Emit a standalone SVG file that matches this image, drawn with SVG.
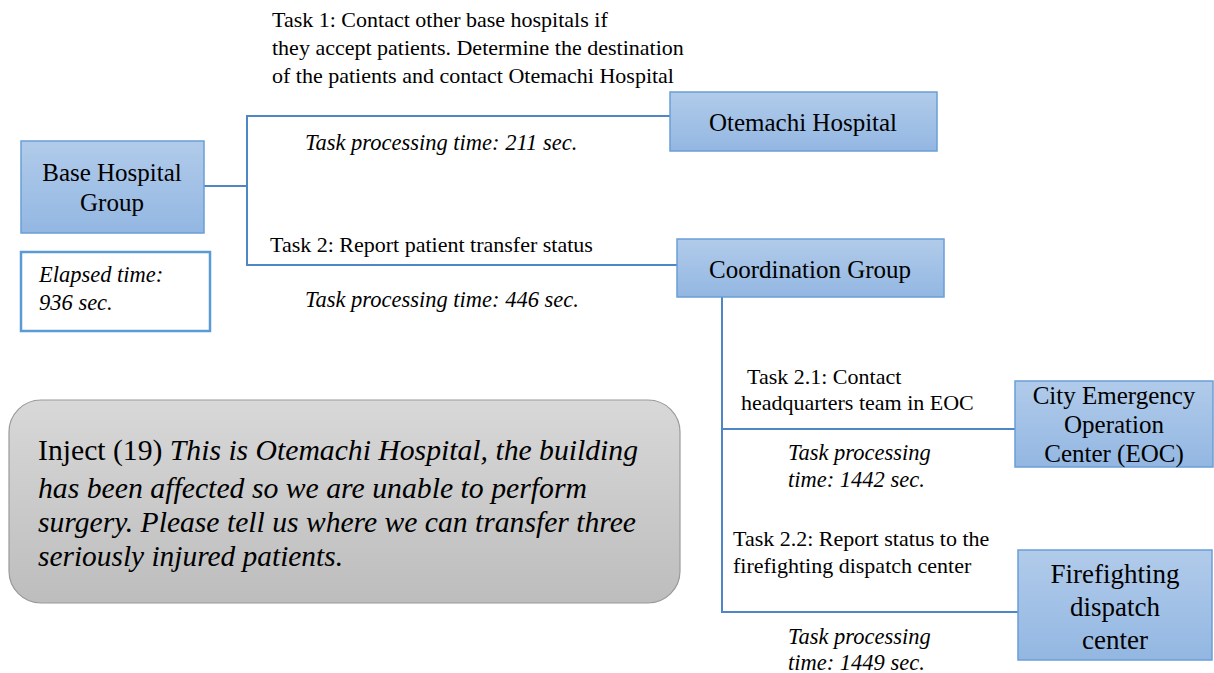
<svg xmlns="http://www.w3.org/2000/svg" width="1214" height="673" viewBox="0 0 1214 673">
  <defs>
    <linearGradient id="blueFill" x1="0" y1="0" x2="0" y2="1">
      <stop offset="0" stop-color="#b1cbea"/>
      <stop offset="1" stop-color="#93b7e2"/>
    </linearGradient>
    <linearGradient id="grayFill" x1="0" y1="0" x2="0" y2="1">
      <stop offset="0" stop-color="#d8d8d8"/>
      <stop offset="1" stop-color="#bdbdbd"/>
    </linearGradient>
    <style>
      .node { fill: url(#blueFill); stroke: #6a9fd6; stroke-width: 1.5; }
      .note { fill: #ffffff; stroke: #5b9bd5; stroke-width: 2.5; }
      .inject { fill: url(#grayFill); stroke: #9a9a9a; stroke-width: 1.2; }
      .wire { fill: none; stroke: #4f86c6; stroke-width: 2; }
      text { font-family: "Liberation Serif", "Times New Roman", serif; fill: #000; }
      .lbl { font-size: 25px; text-anchor: middle; }
      .task { font-size: 22px; }
      .time { font-size: 22.5px; font-style: italic; }
      .inj { font-size: 29px; }
      .it { font-style: italic; }
    </style>
  </defs>

  <!-- connectors -->
  <g id="connectors">
    <polyline class="wire" points="204,186 247,186"/>
    <polyline class="wire" points="670,116 247,116 247,265 677,265"/>
    <polyline class="wire" points="722,297 722,613"/>
    <polyline class="wire" points="722,429 1015,429"/>
    <polyline class="wire" points="722,612 1018,612"/>
  </g>

  <!-- edge labels -->
  <g id="labels">
    <text class="task" x="272" y="27">Task 1: Contact other base hospitals if</text>
    <text class="task" x="272" y="55">they accept patients. Determine the destination</text>
    <text class="task" x="272" y="83">of the patients and contact Otemachi Hospital</text>
    <text class="time" x="305" y="150">Task processing time: 211 sec.</text>
    <text class="task" x="270" y="252">Task 2: Report patient transfer status</text>
    <text class="time" x="305" y="307">Task processing time: 446 sec.</text>
    <text class="task" x="747" y="384">Task 2.1: Contact</text>
    <text class="task" x="741" y="410">headquarters team in EOC</text>
    <text class="time" x="788" y="460">Task processing</text>
    <text class="time" x="788" y="487">time: 1442 sec.</text>
    <text class="task" x="733" y="546">Task 2.2: Report status to the</text>
    <text class="task" x="733" y="573">firefighting dispatch center</text>
    <text class="time" x="788" y="644">Task processing</text>
    <text class="time" x="788" y="670">time: 1449 sec.</text>
  </g>

  <g id="base-hospital-group">
    <rect class="node" x="21" y="141" width="183" height="92"/>
    <text class="lbl" x="112" y="181">Base Hospital</text>
    <text class="lbl" x="112" y="211">Group</text>
  </g>

  <g id="elapsed-time">
    <rect class="note" x="21" y="252" width="189" height="79"/>
    <text class="time" x="39" y="282">Elapsed time:</text>
    <text class="time" x="39" y="310">936 sec.</text>
  </g>

  <g id="otemachi-hospital">
    <rect class="node" x="670" y="92" width="267" height="59"/>
    <text class="lbl" x="803" y="131">Otemachi Hospital</text>
  </g>

  <g id="coordination-group">
    <rect class="node" x="677" y="239" width="267" height="58"/>
    <text class="lbl" x="810" y="278">Coordination Group</text>
  </g>

  <g id="city-eoc">
    <rect class="node" x="1015" y="381" width="198" height="86"/>
    <text class="lbl" x="1114" y="404">City Emergency</text>
    <text class="lbl" x="1114" y="433">Operation</text>
    <text class="lbl" x="1114" y="462">Center (EOC)</text>
  </g>

  <g id="firefighting-dispatch">
    <rect class="node" x="1018" y="550" width="194" height="110"/>
    <text class="lbl" x="1115" y="583" style="font-size:27px">Firefighting</text>
    <text class="lbl" x="1115" y="616" style="font-size:27px">dispatch</text>
    <text class="lbl" x="1115" y="649" style="font-size:27px">center</text>
  </g>

  <g id="inject">
    <rect class="inject" x="9" y="400" width="671" height="203" rx="32" ry="32"/>
    <text class="inj" x="38" y="460" textLength="600" lengthAdjust="spacingAndGlyphs">Inject (19) <tspan class="it">This is Otemachi Hospital, the building</tspan></text>
    <text class="inj it" x="38" y="498" textLength="549" lengthAdjust="spacingAndGlyphs">has been affected so we are unable to perform</text>
    <text class="inj it" x="38" y="532" textLength="598" lengthAdjust="spacingAndGlyphs">surgery. Please tell us where we can transfer three</text>
    <text class="inj it" x="38" y="566" textLength="305" lengthAdjust="spacingAndGlyphs">seriously injured patients.</text>
  </g>
</svg>
